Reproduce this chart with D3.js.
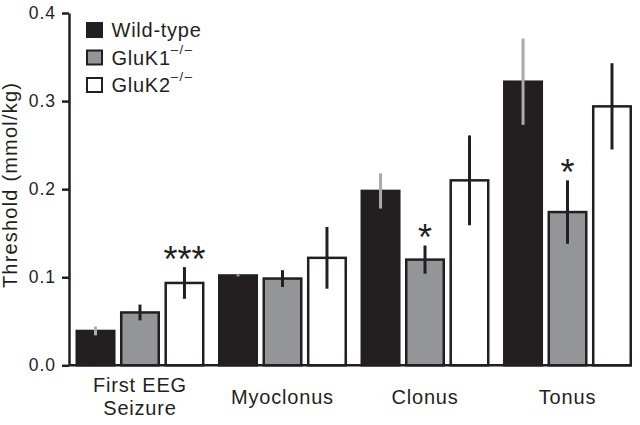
<!DOCTYPE html>
<html>
<head>
<meta charset="utf-8">
<script src="https://cdn.jsdelivr.net/npm/d3@7"></script>
<style>
  body { margin: 0; background: #fff; }
  text { font-family: "Liberation Sans", Arial, sans-serif; }
</style>
</head>
<body>
<div id="chart"></div>
<script>
const categories = ["First EEG|Seizure", "Myoclonus", "Clonus", "Tonus"];
const groups = ["Wild-type", "GluK1", "GluK2"];
const wildType = [0.039, 0.102, 0.198, 0.322];
const wildTypeErr = [0.005, 0.001, 0.020, 0.049];
const gluK1 = [0.060, 0.0985, 0.120, 0.174];
const gluK1Err = [0.009, 0.0095, 0.016, 0.036];
const gluK2 = [0.0935, 0.122, 0.210, 0.294];
const gluK2Err = [0.018, 0.035, 0.051, 0.049];
const stars = [["", "", "***"], ["", "", ""], ["", "*", ""], ["", "*", ""]];
const yTicks = [0.0, 0.1, 0.2, 0.3, 0.4];

const width = 640, height = 425;
const margin = {top: 13, left: 69, bottom: 60};
const ink = "#231f20";

const svg = d3.select("#chart")
    .append("svg")
    .attr("width", width)
    .attr("height", height);

const y = d3.scaleLinear()
    .domain([0, 0.4])
    .range([365.3, margin.top]);

const x0 = d3.scaleBand()
    .domain(categories)
    .range([75.5, 632])
    .paddingInner(0.095)
    .paddingOuter(0);

const x1 = d3.scaleBand()
    .domain(groups)
    .range([0, x0.bandwidth()])
    .paddingInner(0.1);

const fills = {"Wild-type": ink, "GluK1": "#939598", "GluK2": "#ffffff"};
const errColor = {"Wild-type": "#aaaaaa", "GluK1": ink, "GluK2": ink};

const data = categories.map((c, i) => ({
    cat: c,
    bars: [
        {g: "Wild-type", v: wildType[i], e: wildTypeErr[i], s: stars[i][0]},
        {g: "GluK1", v: gluK1[i], e: gluK1Err[i], s: stars[i][1]},
        {g: "GluK2", v: gluK2[i], e: gluK2Err[i], s: stars[i][2]}
    ]
}));

const cg = svg.append("g")
    .selectAll("g")
    .data(data)
    .join("g")
    .attr("transform", d => `translate(${x0(d.cat)},0)`);

// bars
cg.selectAll("rect")
    .data(d => d.bars)
    .join("rect")
    .attr("x", d => x1(d.g) + 1.25)
    .attr("y", d => y(d.v))
    .attr("width", x1.bandwidth() - 2.5)
    .attr("height", d => y(0) - y(d.v))
    .attr("fill", d => fills[d.g])
    .attr("stroke", ink)
    .attr("stroke-width", 2.5);

// error bars
cg.selectAll("line.err")
    .data(d => d.bars)
    .join("line")
    .attr("class", "err")
    .attr("x1", d => x1(d.g) + x1.bandwidth() / 2)
    .attr("x2", d => x1(d.g) + x1.bandwidth() / 2)
    .attr("y1", d => y(d.v + d.e))
    .attr("y2", d => y(d.v - d.e))
    .attr("stroke", d => errColor[d.g])
    .attr("stroke-width", 3);

// significance stars
cg.selectAll("text.star")
    .data(d => d.bars.filter(b => b.s))
    .join("text")
    .attr("class", "star")
    .attr("x", d => x1(d.g) + x1.bandwidth() / 2)
    .attr("y", d => y(d.v + d.e) + 4.5)
    .attr("text-anchor", "middle")
    .attr("font-size", 36)
    .attr("fill", ink)
    .text(d => d.s);

// baseline
svg.append("line")
    .attr("x1", margin.left)
    .attr("x2", 632)
    .attr("y1", y(0))
    .attr("y2", y(0))
    .attr("stroke", ink)
    .attr("stroke-width", 2.5);

// y axis
const yAxis = svg.append("g")
    .attr("transform", `translate(${margin.left},0)`)
    .call(d3.axisLeft(y).tickValues(yTicks).tickFormat(d3.format(".1f")).tickSize(7).tickSizeOuter(0).tickPadding(6));
yAxis.select(".domain").attr("stroke", ink).attr("stroke-width", 2.5);
yAxis.selectAll(".tick line").attr("stroke", ink).attr("stroke-width", 2.5);
yAxis.selectAll(".tick text")
    .attr("font-size", 17.5)
    .attr("letter-spacing", 1)
    .attr("fill", ink)
    .style("font-family", "'Liberation Sans', Arial, sans-serif");

// y axis title
svg.append("text")
    .attr("transform", "rotate(-90)")
    .attr("x", -185)
    .attr("y", 17)
    .attr("text-anchor", "middle")
    .attr("font-size", 20)
    .attr("letter-spacing", 1.2)
    .attr("fill", ink)
    .text("Threshold (mmol/kg)");

// x labels
svg.selectAll("text.xlab")
    .data(categories)
    .join("text")
    .attr("class", "xlab")
    .attr("text-anchor", "middle")
    .attr("font-size", 20)
    .attr("letter-spacing", 0.8)
    .attr("fill", ink)
    .attr("x", d => x0(d) + x0.bandwidth() / 2)
    .attr("y", d => d.includes("|") ? 391.7 : 403.5)
    .each(function(d) {
        const lines = d.split("|");
        d3.select(this).selectAll("tspan")
            .data(lines)
            .join("tspan")
            .attr("x", x0(d) + x0.bandwidth() / 2)
            .attr("dy", (l, i) => i === 0 ? 0 : 23.3)
            .text(l => l);
    });

// legend
const legendLabels = [["Wild-type", ""], ["GluK1", "\u2013/\u2013"], ["GluK2", "\u2013/\u2013"]];
const lg = svg.selectAll("g.legend")
    .data(groups)
    .join("g")
    .attr("class", "legend")
    .attr("transform", (d, i) => `translate(87,${23 + i * 27.5})`);

lg.append("rect")
    .attr("width", 15)
    .attr("height", 14)
    .attr("fill", d => fills[d])
    .attr("stroke", ink)
    .attr("stroke-width", 2);

lg.append("text")
    .attr("x", 24.5)
    .attr("y", 14)
    .attr("font-size", 20)
    .attr("letter-spacing", 0.75)
    .attr("fill", ink)
    .each(function(d, i) {
        const t = d3.select(this);
        t.append("tspan").text(legendLabels[i][0]);
        if (legendLabels[i][1]) {
            t.append("tspan")
                .attr("dy", -11)
                .attr("font-size", 13)
                .attr("letter-spacing", 1.5)
                .text(legendLabels[i][1]);
        }
    });
</script>
</body>
</html>
